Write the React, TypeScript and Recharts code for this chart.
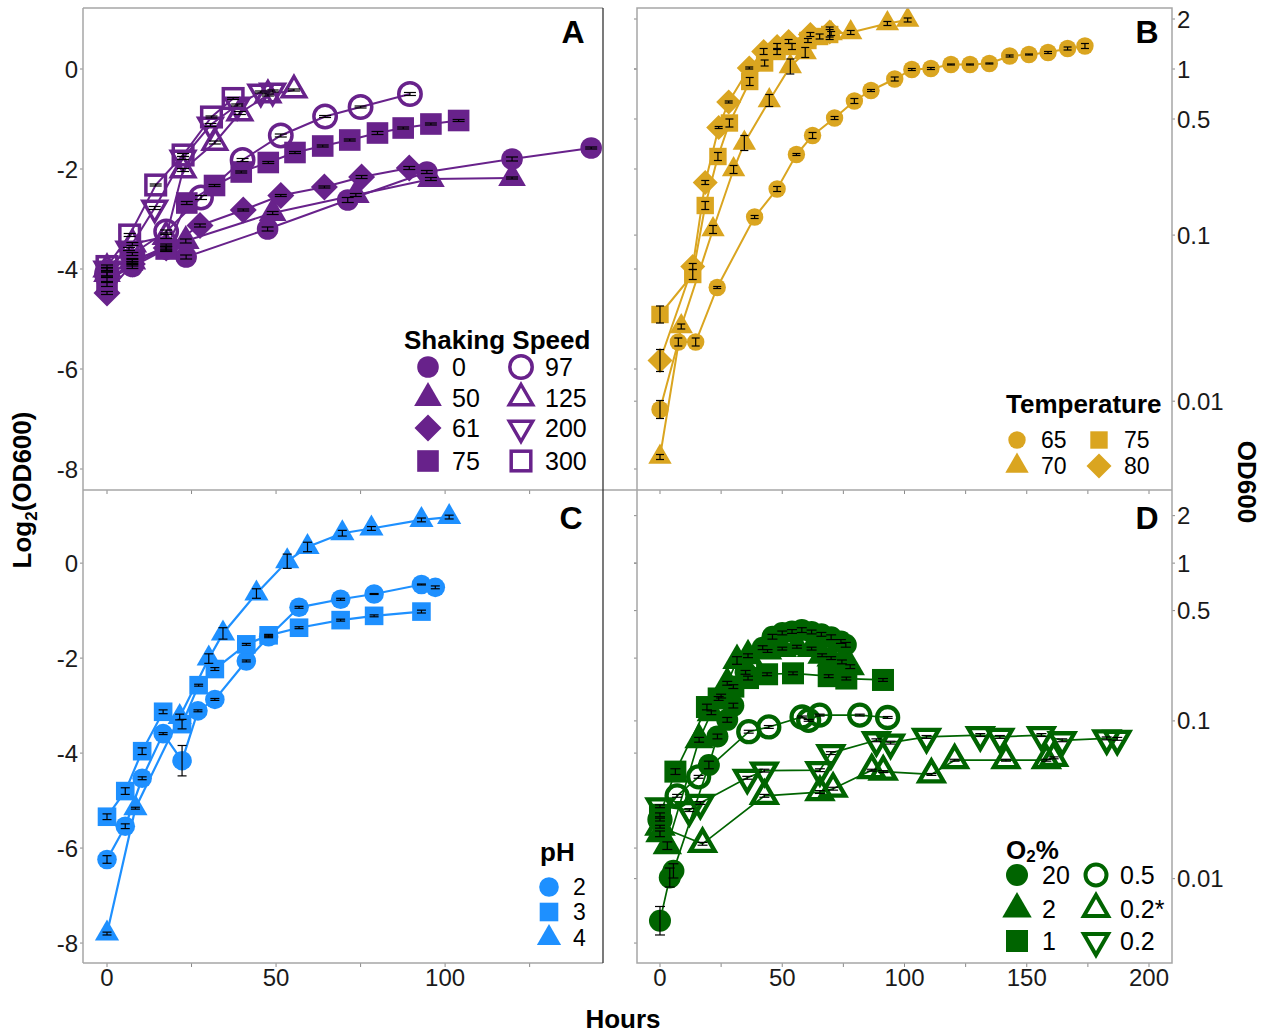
import React from "react";
import { ScatterChart, Scatter, XAxis, YAxis } from "recharts";

type Kind = "circle" | "triangle" | "diamond" | "square" | "ocircle" | "otriangle" | "odown" | "osquare";

const PURPLE = "#68228B";
const GOLD = "#DAA520";
const BLUE = "#1E90FF";
const GREEN = "#006400";
const TICK = "#8a8a8a";
const TXT = "#1a1a1a";
const FRAME = "#a6a6a6";

// tick labels
const LEFT_TICKS = [-8, -6, -4, -2, 0];
const OD_TICKS = [2, 1, 0.5, 0.1, 0.01];
const OD_LABELS = ["2", "1", "0.5", "0.1", "0.01"];
const HOURS_A = [0, 25, 50, 75, 100, 125];
const HOURS_B = [0, 25, 50, 75, 100, 125, 150, 175, 200];

// ---- A: shaking speed (log2 OD600 vs hours) ----
const A_NAMES = ["0", "50", "61", "75", "97", "125", "200", "300"];
const A0_H = [0, 7.5, 17.5, 23.4, 47.5, 71.2, 94.6, 119.8, 143.2];
const A0_V = [-4.22, -3.95, -3.6, -3.76, -3.2, -2.62, -2.06, -1.8, -1.58];
const A0_E = [0.05, 0.04, 0.05, 0.04, 0.04, 0.05, 0.03, 0.04, 0.02];
const A50_H = [0, 7.5, 17.5, 23.3, 49, 73.6, 95.8, 119.8];
const A50_V = [-4.1, -3.85, -3.55, -3.44, -2.88, -2.52, -2.2, -2.18];
const A50_E = [0.04, 0.04, 0.05, 0.04, 0.03, 0.03, 0.03, 0.02];
const A61_H = [0, 7.5, 17.5, 27.5, 40.3, 51.4, 64.3, 75.3, 89.4];
const A61_V = [-4.48, -3.9, -3.58, -3.13, -2.82, -2.53, -2.36, -2.16, -1.98];
const A61_E = [0.03, 0.04, 0.04, 0.03, 0.02, 0.02, 0.02, 0.03, 0.03];
const A75_H = [0, 7.5, 17.5, 23.6, 31.8, 39.7, 47.7, 55.6, 63.8, 71.8, 80, 87.6, 95.8, 104];
const A75_V = [-4.3, -3.82, -3.6, -2.68, -2.33, -2.06, -1.87, -1.67, -1.54, -1.42, -1.28, -1.18, -1.1, -1.03];
const A75_E = [0.05, 0.03, 0.04, 0.03, 0.02, 0.02, 0.02, 0.02, 0.02, 0.02, 0.03, 0.02, 0.02, 0.02];
const A97_H = [0, 7.5, 17.5, 27.8, 40.1, 51.4, 64.5, 75, 89.6];
const A97_V = [-4.1, -3.7, -3.25, -2.57, -1.82, -1.33, -0.95, -0.76, -0.5];
const A97_E = [0.04, 0.03, 0.03, 0.04, 0.03, 0.03, 0.02, 0.02, 0.03];
const A125_H = [0, 7.5, 17.5, 22.5, 31.9, 39.3, 47.6, 55.3];
const A125_V = [-4.0, -3.5, -3.35, -2.02, -1.47, -0.88, -0.52, -0.42];
const A125_E = [0.03, 0.03, 0.04, 0.03, 0.03, 0.03, 0.02, 0.02];
const A200_H = [0, 6.5, 14.1, 22.5, 30.6, 38.5, 45.5, 49];
const A200_V = [-4.0, -3.6, -2.78, -1.78, -1.12, -0.72, -0.46, -0.44];
const A200_E = [0.03, 0.03, 0.03, 0.03, 0.03, 0.02, 0.02, 0.02];
const A300_H = [0, 6.7, 14.4, 22.5, 30.9, 37.3];
const A300_V = [-3.95, -3.32, -2.32, -1.72, -0.96, -0.59];
const A300_E = [0.03, 0.03, 0.02, 0.03, 0.02, 0.02];

// ---- B: temperature ----
const B_NAMES = ["65", "70", "75", "80"];
const B65_H = [0, 7.5, 14.6, 23.4, 38.7, 47.9, 55.8, 62.4, 71.4, 79.5, 86.3, 96, 103, 110.8, 119, 126.8, 134.7, 143, 150.9, 158.7, 166.7, 173.8];
const B65_V = [-6.81, -5.46, -5.46, -4.37, -2.96, -2.4, -1.71, -1.33, -0.98, -0.64, -0.43, -0.2, -0.01, 0.01, 0.09, 0.09, 0.11, 0.26, 0.29, 0.33, 0.41, 0.46];
const B65_E = [0.18, 0.08, 0.08, 0.02, 0.03, 0.05, 0.02, 0.06, 0.03, 0.05, 0.02, 0.04, 0.02, 0.02, 0.01, 0.01, 0.01, 0.02, 0.01, 0.02, 0.03, 0.05];
const B70_H = [0, 8.7, 21.7, 30.1, 34.5, 44.7, 53.3, 59.4, 70, 78, 93, 101.3];
const B70_V = [-7.76, -5.15, -3.21, -2.01, -1.48, -0.63, 0.05, 0.33, 0.71, 0.73, 0.91, 0.98];
const B70_E = [0.05, 0.05, 0.08, 0.08, 0.15, 0.12, 0.15, 0.1, 0.04, 0.04, 0.04, 0.04];
const B75_H = [0, 13.4, 18.5, 23.7, 28.4, 36.7, 42.8, 47.9, 54, 60.5, 65.3, 69.4];
const B75_V = [-4.91, -4.11, -2.73, -1.75, -1.08, -0.25, 0.12, 0.35, 0.45, 0.57, 0.65, 0.69];
const B75_E = [0.17, 0.1, 0.08, 0.08, 0.08, 0.08, 0.06, 0.06, 0.06, 0.04, 0.05, 0.1];
const B80_H = [0, 13.4, 18.5, 24, 28.1, 36.5, 42.4, 47.9, 52.6, 61.5, 69.4];
const B80_V = [-5.83, -3.95, -2.27, -1.17, -0.66, 0.02, 0.35, 0.45, 0.55, 0.69, 0.74];
const B80_E = [0.22, 0.06, 0.04, 0.02, 0.02, 0.02, 0.06, 0.06, 0.04, 0.04, 0.1];

// ---- C: pH ----
const C_NAMES = ["2", "3", "4"];
const C2_H = [0, 5.4, 10.4, 16.6, 22.2, 26.9, 31.9, 41.2, 47.8, 56.8, 69.1, 79, 93, 97.1];
const C2_V = [-6.24, -5.54, -4.53, -3.59, -4.16, -3.11, -2.87, -2.06, -1.55, -0.93, -0.76, -0.65, -0.45, -0.51];
const C2_E = [0.08, 0.05, 0.03, 0.02, 0.32, 0.02, 0.02, 0.02, 0.02, 0.02, 0.02, 0.01, 0.01, 0.03];
const C3_H = [0, 5.4, 10.4, 16.6, 22.2, 27.1, 31.9, 41.2, 47.8, 56.8, 69.1, 79, 93];
const C3_V = [-5.34, -4.8, -3.96, -3.13, -3.39, -2.57, -2.23, -1.71, -1.52, -1.36, -1.2, -1.11, -1.02];
const C3_E = [0.06, 0.07, 0.07, 0.04, 0.1, 0.02, 0.03, 0.02, 0.02, 0.02, 0.02, 0.02, 0.03];
const C4_H = [0, 8.4, 21.5, 30.1, 34.3, 44.2, 53.3, 59.3, 69.6, 78.2, 93, 101.2];
const C4_V = [-7.8, -5.16, -3.24, -2.01, -1.48, -0.64, 0.04, 0.34, 0.63, 0.73, 0.91, 0.97];
const C4_E = [0.03, 0.02, 0.06, 0.1, 0.12, 0.1, 0.15, 0.1, 0.06, 0.04, 0.04, 0.04];

// ---- D: O2 % ----
const D_NAMES = ["20", "2", "1", "0.5", "0.2*", "0.2"];
const D20_H = [0, 4, 5.5, 20, 23.5, 27.5, 30, 35, 42, 46, 50, 54, 58, 62, 66, 70, 74, 76];
const D20_V = [-7.53, -6.62, -6.48, -4.25, -3.65, -3.3, -3.0, -2.3, -1.78, -1.55, -1.47, -1.44, -1.41, -1.45, -1.5, -1.56, -1.65, -1.72];
const D20_E = [0.3, 0.2, 0.15, 0.08, 0.05, 0.05, 0.05, 0.04, 0.04, 0.05, 0.04, 0.04, 0.05, 0.04, 0.04, 0.05, 0.04, 0.05];
const D2_H = [0, 3, 16, 21, 25, 27.5, 31.5, 36, 44, 50, 56, 62, 66.3, 70, 74.4, 77.8];
const D2_V = [-5.7, -5.95, -3.72, -3.15, -2.8, -2.53, -2.05, -1.95, -1.85, -1.8, -1.76, -1.8, -1.94, -2.0, -2.08, -2.18];
const D2_E = [0.06, 0.08, 0.05, 0.04, 0.04, 0.04, 0.08, 0.04, 0.03, 0.03, 0.03, 0.03, 0.03, 0.03, 0.04, 0.04];
const D1_H = [0, 6.3, 19.2, 24, 30, 36, 43.8, 54.4, 69, 76.2, 91.2];
const D1_V = [-5.3, -4.39, -3.03, -2.85, -2.6, -2.42, -2.34, -2.32, -2.38, -2.43, -2.46];
const D1_E = [0.04, 0.06, 0.06, 0.04, 0.04, 0.04, 0.03, 0.03, 0.03, 0.03, 0.03];
const D05_H = [0, 7, 15.8, 36.3, 44.5, 58.1, 60.8, 65.3, 81.7, 93.1];
const D05_V = [-5.4, -4.9, -4.5, -3.55, -3.45, -3.24, -3.31, -3.2, -3.2, -3.25];
const D05_E = [0.03, 0.03, 0.03, 0.03, 0.03, 0.02, 0.02, 0.02, 0.02, 0.02];
const D02S_H = [0, 17.4, 42.7, 65.4, 70.8, 86.6, 91.3, 111, 120.5, 141.5, 158, 161];
const D02S_V = [-5.55, -5.91, -4.9, -4.82, -4.75, -4.36, -4.39, -4.45, -4.15, -4.15, -4.15, -4.1];
const D02S_E = [0.03, 0.03, 0.03, 0.03, 0.03, 0.02, 0.02, 0.02, 0.02, 0.02, 0.02, 0.02];
const D02_H = [0, 12, 16.5, 35.7, 42.7, 65.4, 69.9, 88.5, 94.3, 109, 131, 139, 156, 164.5, 182.7, 187];
const D02_V = [-5.12, -5.2, -5.05, -4.52, -4.37, -4.36, -4.0, -3.73, -3.78, -3.66, -3.62, -3.66, -3.62, -3.73, -3.69, -3.7];
const D02_E = [0.03, 0.03, 0.03, 0.03, 0.03, 0.03, 0.03, 0.03, 0.03, 0.03, 0.03, 0.03, 0.03, 0.03, 0.03, 0.03];

type Series = { name: string; kind: Kind; h: number[]; v: number[]; e: number[] };

const A_SERIES: Series[] = [
  { name: A_NAMES[0], kind: "circle", h: A0_H, v: A0_V, e: A0_E },
  { name: A_NAMES[1], kind: "triangle", h: A50_H, v: A50_V, e: A50_E },
  { name: A_NAMES[2], kind: "diamond", h: A61_H, v: A61_V, e: A61_E },
  { name: A_NAMES[3], kind: "square", h: A75_H, v: A75_V, e: A75_E },
  { name: A_NAMES[4], kind: "ocircle", h: A97_H, v: A97_V, e: A97_E },
  { name: A_NAMES[5], kind: "otriangle", h: A125_H, v: A125_V, e: A125_E },
  { name: A_NAMES[6], kind: "odown", h: A200_H, v: A200_V, e: A200_E },
  { name: A_NAMES[7], kind: "osquare", h: A300_H, v: A300_V, e: A300_E },
];
const B_SERIES: Series[] = [
  { name: B_NAMES[0], kind: "circle", h: B65_H, v: B65_V, e: B65_E },
  { name: B_NAMES[1], kind: "triangle", h: B70_H, v: B70_V, e: B70_E },
  { name: B_NAMES[2], kind: "square", h: B75_H, v: B75_V, e: B75_E },
  { name: B_NAMES[3], kind: "diamond", h: B80_H, v: B80_V, e: B80_E },
];
const C_SERIES: Series[] = [
  { name: C_NAMES[0], kind: "circle", h: C2_H, v: C2_V, e: C2_E },
  { name: C_NAMES[1], kind: "square", h: C3_H, v: C3_V, e: C3_E },
  { name: C_NAMES[2], kind: "triangle", h: C4_H, v: C4_V, e: C4_E },
];
const D_SERIES: Series[] = [
  { name: D_NAMES[0], kind: "circle", h: D20_H, v: D20_V, e: D20_E },
  { name: D_NAMES[1], kind: "triangle", h: D2_H, v: D2_V, e: D2_E },
  { name: D_NAMES[2], kind: "square", h: D1_H, v: D1_V, e: D1_E },
  { name: D_NAMES[3], kind: "ocircle", h: D05_H, v: D05_V, e: D05_E },
  { name: D_NAMES[4], kind: "otriangle", h: D02S_H, v: D02S_V, e: D02S_E },
  { name: D_NAMES[5], kind: "odown", h: D02_H, v: D02_V, e: D02_E },
];

type Sizes = Record<Kind, number>;
const SIZE_A: Sizes = { circle: 10.8, square: 10.8, triangle: 16, diamond: 13.5, ocircle: 11.2, osquare: 9.8, otriangle: 13.5, odown: 13.5 };
const SIZE_B: Sizes = { ...SIZE_A, circle: 8.7, square: 8.7, triangle: 13.5, diamond: 12.5 };
const SIZE_C: Sizes = { ...SIZE_A, circle: 9.8, square: 9.3, triangle: 14 };
const SIZE_D: Sizes = { ...SIZE_A, circle: 11, square: 11, triangle: 17, ocircle: 10.5, otriangle: 14, odown: 14 };

function Marker({ kind, cx, cy, s, color, sw }: { kind: Kind; cx: number; cy: number; s: number; color: string; sw: number }) {
  if (cx == null || cy == null) return <g />;
  const tri = (dir: number) =>
    `${cx},${cy - dir * s} ${cx + s * 0.866},${cy + (dir * s) / 2} ${cx - s * 0.866},${cy + (dir * s) / 2}`;
  const open = { fill: "none", stroke: color, strokeWidth: sw };
  switch (kind) {
    case "circle":
      return <circle cx={cx} cy={cy} r={s} fill={color} />;
    case "square":
      return <rect x={cx - s} y={cy - s} width={2 * s} height={2 * s} fill={color} />;
    case "diamond":
      return <polygon points={`${cx},${cy - s} ${cx + s},${cy} ${cx},${cy + s} ${cx - s},${cy}`} fill={color} />;
    case "triangle":
      return <polygon points={tri(1)} fill={color} />;
    case "ocircle":
      return <circle cx={cx} cy={cy} r={s} {...open} />;
    case "osquare":
      return <rect x={cx - s} y={cy - s} width={2 * s} height={2 * s} {...open} />;
    case "otriangle":
      return <polygon points={tri(1)} {...open} />;
    default:
      return <polygon points={tri(-1)} {...open} />;
  }
}

const Empty = () => <g />;

type PanelProps = {
  series: Series[];
  color: string;
  sizes: Sizes;
  sw: number;
  lw: number;
  cap: number;
  xDomain: [number, number];
  xTicks: number[];
  xLabels: boolean;
  yDomain: [number, number];
  leftLabels: boolean;
  right: boolean;
  width: number;
  height: number;
  top: number;
  xH: number;
  leftW: number;
};

function Panel(p: PanelProps) {
  const data = p.series.map((s) => s.h.map((x, i) => ({ x, y: s.v[i] })));
  const odPos = OD_TICKS.map((t) => Math.log2(t));
  const leftTicks = p.leftLabels ? LEFT_TICKS : [...LEFT_TICKS, ...odPos];
  const capShape = (q: any) =>
    q.cx == null ? <g /> : <line x1={q.cx - p.cap / 2} x2={q.cx + p.cap / 2} y1={q.cy} y2={q.cy} stroke="#000" strokeWidth={1.2} />;
  return (
    <ScatterChart width={p.width} height={p.height} margin={{ top: p.top, right: 0, bottom: 0, left: 0 }}>
      <XAxis
        type="number"
        dataKey="x"
        domain={p.xDomain}
        ticks={p.xTicks}
        interval={0}
        allowDataOverflow
        axisLine={false}
        tickSize={4}
        tickLine={{ stroke: TICK }}
        height={p.xH}
        tick={{ fontSize: 24, fill: TXT }}
        tickFormatter={(v: number) => (p.xLabels && v % 50 === 0 ? String(v) : "")}
      />
      <YAxis
        yAxisId="l"
        type="number"
        dataKey="y"
        domain={p.yDomain}
        ticks={leftTicks}
        interval={0}
        allowDataOverflow
        width={p.leftW}
        axisLine={false}
        tickSize={3}
        tickLine={{ stroke: TICK }}
        tick={{ fontSize: 24, fill: TXT }}
        tickFormatter={(v: number) => (p.leftLabels ? String(v) : "")}
      />
      {p.right && (
        <YAxis
          yAxisId="r"
          orientation="right"
          type="number"
          domain={p.yDomain}
          ticks={odPos}
          interval={0}
          allowDataOverflow
          width={60}
          axisLine={false}
          tickSize={3}
          tickLine={{ stroke: TICK }}
          tick={{ fontSize: 24, fill: TXT }}
          tickFormatter={(v: number) => {
            const i = odPos.findIndex((t) => Math.abs(t - v) < 1e-6);
            return i >= 0 ? OD_LABELS[i] : "";
          }}
        />
      )}
      {/* connecting lines */}
      {data.map((d, i) => (
        <Scatter
          key={"line" + i}
          yAxisId="l"
          data={d}
          fill={p.color}
          line={{ stroke: p.color, strokeWidth: p.lw }}
          shape={Empty}
          isAnimationActive={false}
        />
      ))}
      {/* points */}
      {data.map((d, i) => (
        <Scatter
          key={"pt" + i}
          yAxisId="l"
          data={d}
          fill={p.color}
          isAnimationActive={false}
          shape={(q: any) => (
            <Marker kind={p.series[i].kind} cx={q.cx} cy={q.cy} s={p.sizes[p.series[i].kind]} color={p.color} sw={p.sw} />
          )}
        />
      ))}
      {/* error bars (mean ± error), drawn on top of the points */}
      {p.series.map((s, si) =>
        s.h.map((x, i) => (
          <Scatter
            key={`err${si}-${i}`}
            yAxisId="l"
            data={[{ x, y: s.v[i] - s.e[i] }, { x, y: s.v[i] + s.e[i] }]}
            fill="#000"
            line={{ stroke: "#000", strokeWidth: 1.2 }}
            shape={capShape}
            isAnimationActive={false}
          />
        ))
      )}
    </ScatterChart>
  );
}

type LegendSpec = {
  title: React.ReactNode;
  tx: number;
  ty: number;
  cols: { sx: number; lx: number }[];
  rows: number[];
  series: Series[];
  sizes: Sizes;
  color: string;
  sw: number;
  fs: number;
};

function LegendBlock(l: LegendSpec) {
  return (
    <g>
      <text x={l.tx} y={l.ty} fontSize={26} fontWeight="bold" fill="#000" dominantBaseline="central">
        {l.title}
      </text>
      {l.series.map((s, i) => {
        const c = l.cols[Math.floor(i / l.rows.length)];
        const y = l.rows[i % l.rows.length];
        return (
          <g key={s.name}>
            <Marker kind={s.kind} cx={c.sx} cy={y} s={l.sizes[s.kind]} color={l.color} sw={l.sw} />
            <text x={c.lx} y={y} fontSize={l.fs} fill="#000" dominantBaseline="central">
              {s.name}
            </text>
          </g>
        );
      })}
    </g>
  );
}

const X_AC: [number, number] = [-7.1, 146.7];
const X_BD: [number, number] = [-9.4, 209.4];
const Y_AB: [number, number] = [-8.42, 1.22];
const Y_CD: [number, number] = [-8.42, 1.54];

export default function App() {
  const abs = (left: number, top: number): React.CSSProperties => ({ position: "absolute", left, top });
  return (
    <div
      style={{
        position: "absolute",
        left: 0,
        top: 0,
        width: 1270,
        height: 1034,
        background: "#fff",
        overflow: "hidden",
        fontFamily: '"Liberation Sans", Arial, sans-serif',
      }}
    >
      <div style={abs(0, 0)}>
        <Panel series={A_SERIES} color={PURPLE} sizes={SIZE_A} sw={3.5} lw={2} cap={12}
          xDomain={X_AC} xTicks={HOURS_A} xLabels={false} yDomain={Y_AB} leftLabels right={false}
          width={603} height={500} top={8} xH={10} leftW={83} />
      </div>
      <div style={abs(627, 0)}>
        <Panel series={B_SERIES} color={GOLD} sizes={SIZE_B} sw={3.5} lw={2} cap={8}
          xDomain={X_BD} xTicks={HOURS_B} xLabels={false} yDomain={Y_AB} leftLabels={false} right
          width={605} height={500} top={8} xH={10} leftW={10} />
      </div>
      <div style={abs(0, 490)}>
        <Panel series={C_SERIES} color={BLUE} sizes={SIZE_C} sw={3.5} lw={2.2} cap={9}
          xDomain={X_AC} xTicks={HOURS_A} xLabels yDomain={Y_CD} leftLabels right={false}
          width={603} height={513} top={0} xH={40} leftW={83} />
      </div>
      <div style={abs(627, 490)}>
        <Panel series={D_SERIES} color={GREEN} sizes={SIZE_D} sw={4.3} lw={1.7} cap={10}
          xDomain={X_BD} xTicks={HOURS_B} xLabels yDomain={Y_CD} leftLabels={false} right
          width={605} height={513} top={0} xH={40} leftW={10} />
      </div>

      <svg width={1270} height={1034} style={{ position: "absolute", left: 0, top: 0, pointerEvents: "none" }}>
        {/* panel frames */}
        <g fill="none" stroke={FRAME} strokeWidth={1.5}>
          <line x1={83} y1={8} x2={603} y2={8} />
          <line x1={83} y1={8} x2={83} y2={963} />
          <line x1={83} y1={490} x2={1172} y2={490} />
          <line x1={83} y1={963} x2={603} y2={963} />
          <rect x={637} y={8} width={535} height={955} />
        </g>
        <line x1={603} y1={8} x2={603} y2={963} stroke="#333" strokeWidth={1.3} />

        {/* panel letters */}
        <g fontSize={32} fontWeight="bold" fill="#000" textAnchor="middle" dominantBaseline="central">
          <text x={573} y={32}>A</text>
          <text x={1147} y={32}>B</text>
          <text x={571} y={518}>C</text>
          <text x={1147} y={518}>D</text>
        </g>

        <LegendBlock title="Shaking Speed" tx={404} ty={340} series={A_SERIES} sizes={SIZE_A} color={PURPLE} sw={3.5} fs={25}
          cols={[{ sx: 428, lx: 452 }, { sx: 521, lx: 545 }]} rows={[367, 398, 428, 461]} />
        <LegendBlock title="Temperature" tx={1006} ty={404} series={B_SERIES} sizes={SIZE_B} color={GOLD} sw={3.5} fs={23}
          cols={[{ sx: 1017, lx: 1041 }, { sx: 1099, lx: 1124 }]} rows={[440, 466]} />
        <LegendBlock title="pH" tx={540} ty={852} series={C_SERIES} sizes={SIZE_C} color={BLUE} sw={3.5} fs={23}
          cols={[{ sx: 549, lx: 573 }]} rows={[887, 912, 938]} />
        <LegendBlock
          title={<>O<tspan dy={6} fontSize={17}>2</tspan><tspan dy={-6}>%</tspan></>}
          tx={1006} ty={850} series={D_SERIES} sizes={SIZE_D} color={GREEN} sw={4} fs={25}
          cols={[{ sx: 1017, lx: 1042 }, { sx: 1096, lx: 1120 }]} rows={[875, 909, 941]} />

        {/* axis titles */}
        <g fontSize={26} fontWeight="bold" fill="#000" textAnchor="middle">
          <text x={623} y={1028}>Hours</text>
          <text transform="translate(31,490) rotate(-90)">
            Log<tspan dy={6} fontSize={17}>2</tspan><tspan dy={-6}>(OD600)</tspan>
          </text>
          <text transform="translate(1238,482) rotate(90)">OD600</text>
        </g>
      </svg>
    </div>
  );
}
